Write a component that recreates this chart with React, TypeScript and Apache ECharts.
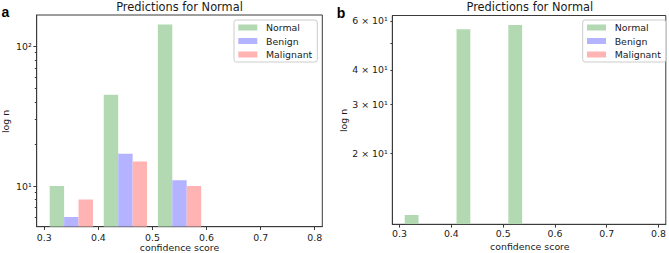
import React, { useEffect, useRef } from "react";
import * as echarts from "echarts";

// ---- data ----
const BIN_STARTS = [0.31, 0.41, 0.51];
const BIN_WIDTH = 0.1;
const BAR_FRACTION = 0.8;
const SERIES_NAMES = ["Normal", "Benign", "Malignant"];
const LEFT_NORMAL = [10, 45, 143];
const LEFT_BENIGN = [6, 17, 11];
const LEFT_MALIGNANT = [8, 15, 10];
const RIGHT_NORMAL = [12, 56, 58];
const RIGHT_BENIGN: number[] = [];
const RIGHT_MALIGNANT: number[] = [];
const X_TICKS = [0.3, 0.4, 0.5, 0.6, 0.7, 0.8];
const LEFT_Y_MAJOR = [10, 100];
const LEFT_Y_MINOR = [6, 7, 8, 9, 20, 30, 40, 50, 60, 70, 80, 90];
const RIGHT_Y_TICKS = [20, 30, 40, 50, 60];
const RIGHT_Y_LABELS = [20, 30, 40, 60];
const TITLE = "Predictions for Normal";
const X_NAME = "confidence score";
const Y_NAME = "log n";

const COLORS = ["#b3d9b3", "#b3b3ff", "#ffb3b3"];
const FONT = "DejaVu Sans";
const SPINE = "#3a3a3a";
const TEXT = "#1a1a1a";

const SUP: Record<string, string> = { "0": "⁰", "1": "¹", "2": "²", "3": "³" };

function toPairs(values: number[]) {
  return values.map((v, i) => [BIN_STARTS[i], v]);
}

function makeRender(k: number) {
  return (params: any, api: any) => {
    const x = api.value(0);
    const v = api.value(1);
    const w = (BIN_WIDTH * BAR_FRACTION) / 3;
    const x0 = x + k * w;
    const x1 = x0 + w;
    const p0 = api.coord([x0, v]);
    const p1 = api.coord([x1, v]);
    const cs = params.coordSys;
    const bottom = cs.y + cs.height;
    return {
      type: "rect",
      shape: { x: p0[0], y: p0[1], width: p1[0] - p0[0], height: bottom - p0[1] },
      style: { fill: COLORS[k] },
    };
  };
}

const xAxisCommon = (gridIndex: number, margin: number) => ({
  type: "value",
  gridIndex,
  min: 0.286,
  max: 0.814,
  axisLine: { show: true, onZero: false, lineStyle: { color: SPINE, width: 1 } },
  axisTick: { show: true, customValues: X_TICKS, length: 3.3, lineStyle: { color: SPINE } },
  axisLabel: {
    show: true,
    customValues: X_TICKS,
    formatter: (v: number) => v.toFixed(1),
    margin,
    fontSize: 9.4,
    fontFamily: FONT,
    color: TEXT,
  },
  splitLine: { show: false },
});

export default function App() {
  const ref = useRef<HTMLDivElement>(null);

  useEffect(() => {
    if (!ref.current) return;
    const chart = echarts.init(ref.current, null, { renderer: "svg" });

    const legendCommon = {
      orient: "vertical",
      align: "left",
      top: 20,
      icon: "rect",
      itemWidth: 19,
      itemHeight: 6,
      itemGap: 2.5,
      padding: [2, 5, 2, 4.3],
      selectedMode: false,
      backgroundColor: "rgba(255,255,255,0.8)",
      borderColor: "#cccccc",
      borderWidth: 1,
      borderRadius: 2.5,
      data: SERIES_NAMES,
      textStyle: {
        fontFamily: FONT,
        fontSize: 9.4,
        color: TEXT,
        lineHeight: 11,
        padding: [0, 0, 0, 3.7],
      },
    };

    const leftData = [LEFT_NORMAL, LEFT_BENIGN, LEFT_MALIGNANT];
    const rightData = [RIGHT_NORMAL, RIGHT_BENIGN, RIGHT_MALIGNANT];

    const series: any[] = [];
    SERIES_NAMES.forEach((name, k) => {
      series.push({
        type: "custom",
        name,
        xAxisIndex: 0,
        yAxisIndex: 0,
        coordinateSystem: "cartesian2d",
        renderItem: makeRender(k),
        itemStyle: { color: COLORS[k] },
        encode: { x: 0, y: 1 },
        clip: true,
        data: toPairs(leftData[k]),
      });
      series.push({
        type: "custom",
        name,
        xAxisIndex: 1,
        yAxisIndex: 2,
        coordinateSystem: "cartesian2d",
        renderItem: makeRender(k),
        itemStyle: { color: COLORS[k] },
        encode: { x: 0, y: 1 },
        clip: true,
        data: toPairs(rightData[k]),
      });
    });

    const textStyle = (size: number, extra: any = {}) => ({
      fontFamily: FONT,
      fontSize: size,
      fill: TEXT,
      align: "center",
      verticalAlign: "middle",
      ...extra,
    });

    chart.setOption({
      animation: false,
      backgroundColor: "#ffffff",
      grid: [
        { left: 36.7, top: 15, width: 285.6, height: 211.7, show: true, borderColor: SPINE, borderWidth: 1, backgroundColor: "transparent" },
        { left: 392.3, top: 15.5, width: 275, height: 208.8, show: true, borderColor: SPINE, borderWidth: 1, backgroundColor: "transparent" },
      ],
      xAxis: [xAxisCommon(0, 6), xAxisCommon(1, 5)],
      yAxis: [
        {
          type: "log",
          logBase: 10,
          gridIndex: 0,
          position: "left",
          min: 5.12,
          max: 167.5,
          axisLine: { show: true, onZero: false, lineStyle: { color: SPINE, width: 1 } },
          axisTick: { show: true, customValues: LEFT_Y_MAJOR, length: 3.3, lineStyle: { color: SPINE } },
          axisLabel: {
            show: true,
            customValues: LEFT_Y_MAJOR,
            formatter: (v: number) => "10" + SUP[String(Math.round(Math.log10(v)))],
            margin: 5,
            fontSize: 9.4,
            fontFamily: FONT,
            color: TEXT,
          },
          splitLine: { show: false },
        },
        {
          type: "log",
          logBase: 10,
          gridIndex: 0,
          position: "left",
          offset: 0,
          min: 5.12,
          max: 167.5,
          axisLine: { show: false, onZero: false },
          axisTick: { show: true, customValues: LEFT_Y_MINOR, length: 1.9, lineStyle: { color: SPINE } },
          axisLabel: { show: false },
          splitLine: { show: false },
        },
        {
          type: "log",
          logBase: 10,
          gridIndex: 1,
          position: "left",
          min: 11.1,
          max: 62.8,
          axisLine: { show: true, onZero: false, lineStyle: { color: SPINE, width: 1 } },
          axisTick: { show: true, customValues: RIGHT_Y_TICKS, length: 1.9, lineStyle: { color: SPINE } },
          axisLabel: {
            show: true,
            customValues: RIGHT_Y_LABELS,
            formatter: (v: number) => `${Math.round(v / 10)} × 10¹`,
            margin: 4.6,
            fontSize: 9.4,
            fontFamily: FONT,
            color: TEXT,
          },
          splitLine: { show: false },
        },
      ],
      legend: [
        { ...legendCommon, left: 234 },
        { ...legendCommon, left: 582.7 },
      ],
      graphic: [
        { type: "text", x: 5.5, y: 12, style: textStyle(14, { text: "a", fontWeight: "bold", fontFamily: "Liberation Sans", fill: "#000" }) },
        { type: "text", x: 341, y: 12.5, style: textStyle(14, { text: "b", fontWeight: "bold", fontFamily: "Liberation Sans", fill: "#000" }) },
        { type: "text", x: 179.5, y: 6.8, style: textStyle(11.4, { text: TITLE }) },
        { type: "text", x: 529.8, y: 6.8, style: textStyle(11.4, { text: TITLE }) },
        { type: "text", x: 179.5, y: 247.7, style: textStyle(9.4, { text: X_NAME }) },
        { type: "text", x: 529.8, y: 246, style: textStyle(9.4, { text: X_NAME }) },
        { type: "text", x: 5.5, y: 121.5, rotation: Math.PI / 2, style: textStyle(9.4, { text: Y_NAME }) },
        { type: "text", x: 343.3, y: 120.5, rotation: Math.PI / 2, style: textStyle(9.4, { text: Y_NAME }) },
      ],
      series,
    });

    return () => chart.dispose();
  }, []);

  return (
    <div
      ref={ref}
      style={{ position: "absolute", left: 0, top: 0, width: 669, height: 253 }}
    />
  );
}
